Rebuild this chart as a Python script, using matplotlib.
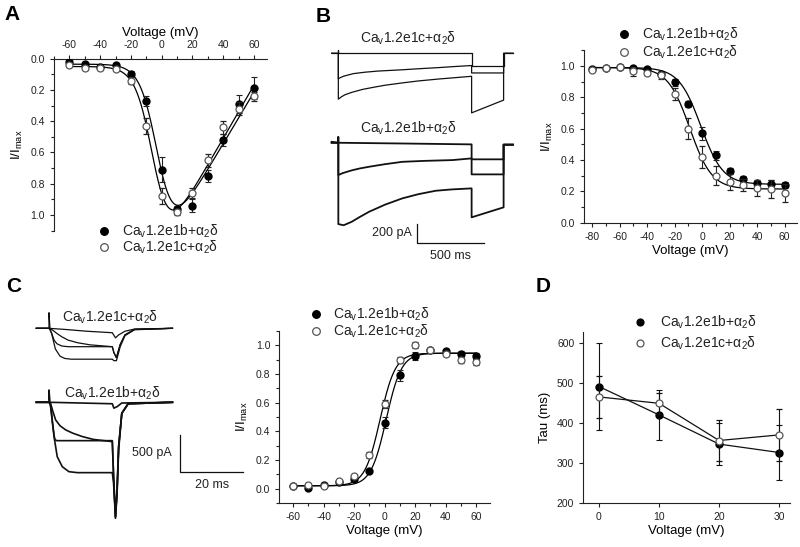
import numpy as np
import matplotlib
matplotlib.use('Agg')
import matplotlib.pyplot as plt
from matplotlib.lines import Line2D
from matplotlib.ticker import MultipleLocator

plt.rcParams['font.family'] = ['Liberation Sans', 'DejaVu Sans']
plt.rcParams['mathtext.fontset'] = 'custom'
plt.rcParams['mathtext.rm'] = 'Liberation Sans'
plt.rcParams['axes.unicode_minus'] = False

LBL_B = r'Ca$_\mathregular{v}$1.2e1b+α$_\mathregular{2}$δ'
LBL_C = r'Ca$_\mathregular{v}$1.2e1c+α$_\mathregular{2}$δ'

# ---- panel A: I-V relation ----
iv_v = [-60, -50, -40, -30, -20, -10, 0, 10, 20, 30, 40, 50, 60]
iv_e1b = [0.02, 0.035, 0.05, 0.04, 0.10, 0.27, 0.71, 0.96, 0.94, 0.75, 0.52, 0.29, 0.19]
iv_e1b_err = [0.01, 0.01, 0.01, 0.01, 0.02, 0.03, 0.08, 0.02, 0.04, 0.04, 0.04, 0.06, 0.07]
iv_e1c = [0.04, 0.06, 0.06, 0.065, 0.14, 0.43, 0.88, 0.98, 0.86, 0.65, 0.44, 0.32, 0.24]
iv_e1c_err = [0.01, 0.01, 0.01, 0.01, 0.02, 0.05, 0.05, 0.02, 0.03, 0.04, 0.04, 0.04, 0.03]
# fit params: g, Erev, V1/2, k, baseline
iv_fit_e1b = (0.0165, 73, -2, 5.5, 0.035)
iv_fit_e1c = (0.017, 70, -5, 5.5, 0.05)

# ---- panel B: steady-state inactivation ----
inact_v = [-80, -70, -60, -50, -40, -30, -20, -10, 0, 10, 20, 30, 40, 50, 60]
inact_e1b = [0.98, 0.99, 0.995, 0.99, 0.98, 0.95, 0.895, 0.757, 0.57, 0.43, 0.33, 0.28, 0.255, 0.245, 0.24]
inact_e1b_err = [0.01, 0.01, 0.01, 0.01, 0.01, 0.01, 0.02, 0.02, 0.04, 0.03, 0.02, 0.02, 0.01, 0.03, 0.02]
inact_e1c = [0.975, 0.99, 0.995, 0.965, 0.955, 0.94, 0.82, 0.60, 0.42, 0.30, 0.26, 0.24, 0.22, 0.215, 0.19]
inact_e1c_err = [0.01, 0.01, 0.01, 0.03, 0.01, 0.02, 0.04, 0.065, 0.07, 0.06, 0.05, 0.04, 0.05, 0.06, 0.06]
# A1, A2, V1/2, k
inact_fit_e1b = (0.99, 0.245, -1, 8)
inact_fit_e1c = (0.99, 0.215, -9, 8)

# B traces (ms, pA); bottom group shifted by offset
bt_e1c_1_t = [-50, 0, 0, 0, 1000, 1000, 1240, 1240, 1310]
bt_e1c_1_i = [0, 0, 30, 0, 0, -131, -131, 0, 0]
bt_e1c_2_t = [-50, 0, 0, 15, 40, 113, 200, 300, 488, 600, 750, 880, 1000, 1000, 1240, 1240, 1310]
bt_e1c_2_i = [0, 0, -268, -255, -240, -213, -198, -186, -172, -162, -150, -138, -128, -206, -206, 0, 0]
bt_e1c_3_t = [-50, 0, 0, 25, 50, 100, 184, 270, 350, 488, 600, 750, 880, 1000, 1000, 1240, 1240, 1310]
bt_e1c_3_i = [0, 0, -481, -455, -435, -410, -378, -355, -335, -309, -290, -270, -255, -241, -625, -491, 0, 0]
bt_e1b_1_t = [-50, 0, 500, 1000, 1000, 1240, 1240, 1310]
bt_e1b_1_i = [10, 0, -8, -17, -174, -174, -20, -20]
bt_e1b_2_t = [-50, 0, 0, 30, 100, 160, 230, 350, 480, 650, 855, 1000, 1000, 1240, 1240, 1310]
bt_e1b_2_i = [0, 0, -339, -320, -290, -270, -252, -225, -200, -190, -182, -164, -332, -332, -20, -20]
bt_e1b_3_t = [-50, 0, 0, 0, 40, 100, 160, 230, 350, 480, 600, 730, 850, 1000, 1000, 1240, 1240, 1310]
bt_e1b_3_i = [0, 0, 60, -854, -866, -830, -780, -725, -650, -584, -540, -504, -490, -479, -783, -678, -20, -20]
bt_offset = -939

# ---- panel C: activation ----
act_v = [-60, -50, -40, -30, -20, -10, 0, 10, 20, 30, 40, 50, 60]
act_e1b = [0.016, 0.005, 0.023, 0.046, 0.067, 0.12, 0.46, 0.79, 0.925, 0.97, 0.958, 0.937, 0.926]
act_e1b_err = [0.01, 0.01, 0.01, 0.01, 0.01, 0.01, 0.04, 0.04, 0.03, 0.01, 0.01, 0.02, 0.02]
act_e1c = [0.02, 0.028, 0.02, 0.05, 0.085, 0.236, 0.59, 0.90, 1.0, 0.97, 0.937, 0.90, 0.884]
act_e1c_err = [0.01, 0.01, 0.01, 0.01, 0.01, 0.02, 0.03, 0.02, 0.02, 0.01, 0.01, 0.02, 0.02]
# bottom, top, V1/2, k
act_fit_e1b = (0.02, 0.945, 1, 5)
act_fit_e1c = (0.02, 0.945, -3, 5)

# C traces (ms, pA)
ct_e1c_1_t = [-4, 0, 5, 12, 20, 21, 22, 24, 27, 39]
ct_e1c_1_i = [0, 0, -15, -40, -60, -130, -90, -40, -10, 0]
ct_e1c_2_t = [-4, 0, 1, 2.5, 4, 6, 9, 13, 20, 20.5, 21.3, 22.5, 24, 27, 39]
ct_e1c_2_i = [0, 0, -20, -70, -114, -160, -196, -225, -250, -330, -400, -220, -90, -15, 0]
ct_e1c_3_t = [-4, 0, 0.8, 1.6, 2.5, 4, 6, 20, 20.5, 21.3, 22.5, 24, 27, 39]
ct_e1c_3_i = [0, 0, -60, -160, -210, -240, -250, -250, -330, -400, -220, -90, -15, 0]
ct_e1c_4_t = [-4, 0, 0, 0.3, 1, 2, 3.5, 5, 7, 20, 20.5, 21.3, 22.5, 24, 27, 39]
ct_e1c_4_i = [0, 0, 212, 0, -100, -280, -380, -410, -420, -420, -440, -440, -250, -100, -20, 0]
ct_e1b_1_t = [-4, 0, 20, 20.5, 21.5, 23, 39]
ct_e1b_1_i = [0, 0, -20, -80, -60, -10, 0]
ct_e1b_2_t = [-4, 0, 0.5, 1.2, 2.1, 3.5, 5.3, 7.5, 10.6, 14, 20, 20.4, 21, 21.5, 22, 23, 25, 39]
ct_e1b_2_i = [0, 0, -14, -120, -240, -320, -376, -420, -467, -505, -535, -1000, -1560, -1200, -600, -150, -20, 0]
ct_e1b_3_t = [-4, 0, 0.5, 1.0, 1.6, 1.9, 2.5, 20, 20.4, 21, 21.5, 22, 23, 25, 39]
ct_e1b_3_i = [0, 0, -40, -250, -450, -510, -522, -522, -1000, -1560, -1200, -600, -150, -20, 0]
ct_e1b_4_t = [-4, 0, 0, 0.3, 0.8, 1.6, 2.6, 4.2, 6.3, 9, 20, 20.4, 21, 21.5, 22, 23, 25, 39]
ct_e1b_4_i = [0, 0, 167, 0, -150, -468, -740, -876, -944, -957, -957, -1100, -1578, -1250, -650, -150, -20, 0]
ct_offset = -1006

# ---- panel D: inactivation tau ----
tau_v = [0, 10, 20, 30]
tau_e1b = [492, 421, 348, 327]
tau_e1b_err = [108, 62, 52, 68]
tau_e1c = [466, 450, 357, 371]
tau_e1c_err = [53, 26, 51, 65]


def iv_fit(v, g, erev, vh, k, b):
    act = 1 / (1 + np.exp((vh - v) / k))
    return b * (1 - act) + g * (erev - v) * act


def boltz_down(v, a1, a2, vh, k):
    return a2 + (a1 - a2) / (1 + np.exp((v - vh) / k))


def boltz_up(v, lo, hi, vh, k):
    return lo + (hi - lo) / (1 + np.exp((vh - v) / k))


W, H = 800, 547
fig = plt.figure(figsize=(8, 5.47), dpi=100)


def box(l, t, r, b):
    return [l / W, 1 - b / H, (r - l) / W, (b - t) / H]


def style(ax, hide=('top', 'right')):
    for s in ax.spines:
        ax.spines[s].set_linewidth(0.8)
        ax.spines[s].set_color('#222')
    for s in hide:
        ax.spines[s].set_visible(False)
    ax.tick_params(which='both', direction='out', colors='#222', labelsize=7.5, width=0.8)
    ax.tick_params(which='major', length=3)
    ax.tick_params(which='minor', length=2)


def points(ax, v, y, e, filled):
    if filled:
        kw = dict(mfc='black', mec='black')
    else:
        kw = dict(mfc='white', mec='#555', mew=0.9)
    ax.errorbar(v, y, yerr=e, fmt='o', ms=5, ecolor='#222', elinewidth=0.8,
                capsize=2.5, capthick=0.8, zorder=3 if filled else 4, **kw)


def legend(xm, xt, y1, y2, size=10, ms=5.5):
    for yy, filled, lbl in [(y1, True, LBL_B), (y2, False, LBL_C)]:
        fig.add_artist(Line2D([xm / W], [1 - yy / H], marker='o', ms=ms,
                              mfc='black' if filled else 'white',
                              mec='black' if filled else '#555', mew=0.9,
                              transform=fig.transFigure))
        fig.text(xt / W, 1 - yy / H, lbl, fontsize=size, va='center', ha='left', color='#222')


def panel_letter(x, y, s):
    fig.text(x / W, 1 - y / H, s, fontsize=15, fontweight='bold', ha='center', va='center')


def voltage_axis(ax):
    ax.xaxis.set_major_locator(MultipleLocator(20))
    ax.xaxis.set_minor_locator(MultipleLocator(10))
    ax.yaxis.set_major_locator(MultipleLocator(0.2))
    ax.yaxis.set_minor_locator(MultipleLocator(0.1))
    ax.yaxis.set_major_formatter('{x:.1f}')


# ===== A =====
ax = fig.add_axes(box(54, 58.7, 267, 230.6))
style(ax, hide=('bottom', 'right'))
ax.xaxis.tick_top()
ax.xaxis.set_label_position('top')
ax.set_xlim(-70, 68.5)
ax.set_ylim(1.1, 0)
voltage_axis(ax)
vv = np.linspace(-60, 60, 300)
ax.plot(vv, iv_fit(vv, *iv_fit_e1b), color='black', lw=0.9, zorder=2)
ax.plot(vv, iv_fit(vv, *iv_fit_e1c), color='black', lw=0.9, zorder=2)
points(ax, iv_v, iv_e1c, iv_e1c_err, False)
points(ax, iv_v, iv_e1b, iv_e1b_err, True)
ax.set_xlabel('Voltage (mV)', fontsize=9.5, labelpad=3)
ax.set_ylabel(r'I/I$_\mathregular{max}$', fontsize=9.5, labelpad=4)
legend(104, 122, 231, 247)
panel_letter(12, 15, 'A')

# ===== B traces =====
ax = fig.add_axes(box(325, 30, 520, 260))
ax.axis('off')
ax.set_xlim(-100, 1363)
ax.set_ylim(-2170, 245)
for t, i in [(bt_e1c_1_t, bt_e1c_1_i), (bt_e1c_2_t, bt_e1c_2_i), (bt_e1c_3_t, bt_e1c_3_i)]:
    ax.plot(t, i, color='#111', lw=0.9)
for t, i in [(bt_e1b_1_t, bt_e1b_1_i), (bt_e1b_2_t, bt_e1b_2_i), (bt_e1b_3_t, bt_e1b_3_i)]:
    ax.plot(t, np.array(i) + bt_offset, color='#111', lw=1.3)
ax.plot([590, 590, 1090], [-1787, -1987, -1987], color='#111', lw=0.9)
ax.text(553, -1887, '200 pA', fontsize=9, ha='right', va='center', color='#222')
ax.text(840, -2128, '500 ms', fontsize=9, ha='center', va='center', color='#222')
fig.text(408 / W, 1 - 38.3 / H, LBL_C, fontsize=10, ha='center', va='center', color='#222')
fig.text(408 / W, 1 - 128.3 / H, LBL_B, fontsize=10, ha='center', va='center', color='#222')
panel_letter(323, 17, 'B')

# ===== B inactivation =====
ax = fig.add_axes(box(584, 50.3, 797, 222.7))
style(ax)
ax.set_xlim(-86, 69)
ax.set_ylim(0, 1.1)
voltage_axis(ax)
vv = np.linspace(-80, 60, 300)
ax.plot(vv, boltz_down(vv, *inact_fit_e1b), color='black', lw=0.9, zorder=2)
ax.plot(vv, boltz_down(vv, *inact_fit_e1c), color='black', lw=0.9, zorder=2)
points(ax, inact_v, inact_e1c, inact_e1c_err, False)
points(ax, inact_v, inact_e1b, inact_e1b_err, True)
ax.set_xlabel('Voltage (mV)', fontsize=9.5, labelpad=2)
ax.set_ylabel(r'I/I$_\mathregular{max}$', fontsize=9.5, labelpad=4)
legend(624, 642, 34, 52)

# ===== C traces =====
ax = fig.add_axes(box(30, 300, 250, 525))
ax.axis('off')
ax.set_xlim(-6, 63.5)
ax.set_ylim(-2675, 385)
for t, i in [(ct_e1c_1_t, ct_e1c_1_i), (ct_e1c_2_t, ct_e1c_2_i),
             (ct_e1c_3_t, ct_e1c_3_i), (ct_e1c_4_t, ct_e1c_4_i)]:
    ax.plot(t, i, color='#111', lw=0.9)
for t, i in [(ct_e1b_1_t, ct_e1b_1_i), (ct_e1b_2_t, ct_e1b_2_i),
             (ct_e1b_3_t, ct_e1b_3_i), (ct_e1b_4_t, ct_e1b_4_i)]:
    ax.plot(t, np.array(i) + ct_offset, color='#111', lw=1.2)
ax.plot([41.4, 41.4, 61.4], [-1450, -1950, -1950], color='#111', lw=0.9)
ax.text(38.9, -1696, '500 pA', fontsize=9, ha='right', va='center', color='#222')
ax.text(51.5, -2131, '20 ms', fontsize=9, ha='center', va='center', color='#222')
fig.text(110 / W, 1 - 317.7 / H, LBL_C, fontsize=10, ha='center', va='center', color='#222')
fig.text(112 / W, 1 - 393.3 / H, LBL_B, fontsize=10, ha='center', va='center', color='#222')
panel_letter(14, 287, 'C')

# ===== C activation =====
ax = fig.add_axes(box(279.3, 331, 490, 503))
style(ax)
ax.set_xlim(-69, 69)
ax.set_ylim(-0.1, 1.1)
voltage_axis(ax)
vv = np.linspace(-60, 60, 300)
ax.plot(vv, boltz_up(vv, *act_fit_e1b), color='black', lw=0.9, zorder=2)
ax.plot(vv, boltz_up(vv, *act_fit_e1c), color='black', lw=0.9, zorder=2)
points(ax, act_v, act_e1c, act_e1c_err, False)
points(ax, act_v, act_e1b, act_e1b_err, True)
ax.set_xlabel('Voltage (mV)', fontsize=9.5, labelpad=2)
ax.set_ylabel(r'I/I$_\mathregular{max}$', fontsize=9.5, labelpad=4)
legend(316, 333, 314, 331)

# ===== D =====
ax = fig.add_axes(box(583.3, 331.7, 790, 503.3))
style(ax)
ax.set_xlim(-2.6, 31.8)
ax.set_ylim(200, 629)
ax.set_xticks(tau_v)
ax.set_yticks([200, 300, 400, 500, 600])
ax.errorbar(tau_v, tau_e1b, yerr=tau_e1b_err, fmt='-o', color='#111', lw=0.9, ms=5,
            mfc='black', mec='black', elinewidth=0.8, capsize=2.5, capthick=0.8, zorder=3)
ax.errorbar(tau_v, tau_e1c, yerr=tau_e1c_err, fmt='-o', color='#111', lw=0.9, ms=5,
            mfc='white', mec='#555', mew=0.9, elinewidth=0.8, capsize=2.5, capthick=0.8, zorder=4)
ax.set_xlabel('Voltage (mV)', fontsize=9.5, labelpad=2)
ax.set_ylabel('Tau (ms)', fontsize=9.5, labelpad=4)
legend(640, 660, 322, 343, ms=5)
panel_letter(543, 286, 'D')

fig.savefig('out.png', dpi=100)
